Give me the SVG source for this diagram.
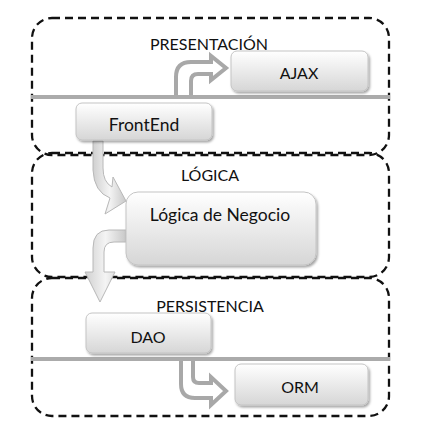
<svg xmlns="http://www.w3.org/2000/svg" width="423" height="429" viewBox="0 0 423 429">
<defs>
<linearGradient id="boxg" x1="0" y1="0" x2="0" y2="1">
<stop offset="0" stop-color="#ffffff"/>
<stop offset="1" stop-color="#d6d6d6"/>
</linearGradient>
<linearGradient id="arrg" x1="0" y1="0" x2="1" y2="0">
<stop offset="0" stop-color="#d0d0d0"/>
<stop offset="0.5" stop-color="#f4f4f4"/>
<stop offset="1" stop-color="#c8c8c8"/>
</linearGradient>
<filter id="sh" x="-10%" y="-10%" width="130%" height="140%">
<feDropShadow dx="1.5" dy="2" stdDeviation="1.2" flood-color="#000" flood-opacity="0.35"/>
</filter>
</defs>
<style>
.layer{fill:none;stroke:#111;stroke-width:2.3;stroke-dasharray:8,5}
.sep{stroke:#ababab;stroke-width:4}
.box{fill:url(#boxg);stroke:#c4c4c4;stroke-width:1;filter:url(#sh)}
.t{font-family:Lato,"Open Sans",sans-serif;font-size:16px;fill:#111;text-anchor:middle}
.l{font-size:17.5px}
.hollow{fill:#fff;stroke:#a8a8a8;stroke-width:4;stroke-linejoin:miter}
.solid{fill:url(#arrg);stroke:#b8b8b8;stroke-width:1}
</style>
<g id="presentacion">
<rect class="layer" x="32" y="18" width="357" height="137" rx="20"/>
<line class="sep" x1="31" y1="97" x2="390" y2="97"/>
<text class="t" x="209" y="50">PRESENTACIÓN</text>
</g>
<g id="logica">
<rect class="layer" x="32" y="153" width="357" height="124" rx="20"/>
<text class="t" x="210" y="181">LÓGICA</text>
</g>
<g id="persistencia">
<rect class="layer" x="32" y="278" width="357" height="138" rx="20"/>
<line class="sep" x1="31" y1="359" x2="390" y2="359"/>
<text class="t" x="210" y="312">PERSISTENCIA</text>
</g>
<g id="connectors">
<path class="hollow" d="M176,95 V77 Q176,62 191,62 H211 V56 L226,68 L211,80 V74 H198 Q191,74 191,81 V95"/>
<path class="solid" d="M93,141 V170 Q94,192 110,198 L105,214 L126,201 L113,177 L112,187 Q103,182 103,168 V141 Z"/>
<path class="solid" d="M126,230 H109 Q93,230 93,248 V272 H85 L100,302 L115,272 H104 V252 Q104,242 114,242 H126 Z"/>
<path class="hollow" d="M181,361 V384 Q181,398 195,398 H211 V405 L226,391 L211,377 V383 H199 Q193,383 193,377 V361"/>
</g>
<g id="ajax">
<rect class="box" x="231" y="51" width="137" height="40" rx="6"/>
<text class="t" x="299" y="79">AJAX</text>
</g>
<g id="frontend">
<rect class="box" x="76" y="103" width="136" height="37" rx="6"/>
<text class="t l" x="144" y="131">FrontEnd</text>
</g>
<g id="negocio">
<rect class="box" x="126" y="192" width="190" height="73" rx="12"/>
<text class="t l" x="220" y="221">Lógica de Negocio</text>
</g>
<g id="dao">
<rect class="box" x="86" y="313" width="125" height="40" rx="6"/>
<text class="t" x="148" y="343">DAO</text>
</g>
<g id="orm">
<rect class="box" x="235" y="364" width="133" height="41" rx="6"/>
<text class="t" x="300" y="393">ORM</text>
</g>
</svg>
